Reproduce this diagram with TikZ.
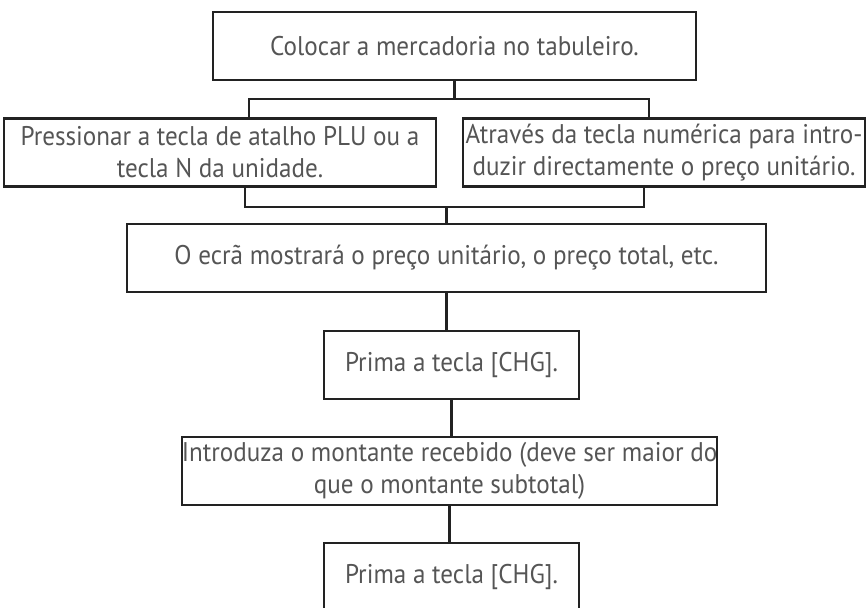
\documentclass[tikz,border=0pt]{standalone}
\usepackage{fontspec}
\setmainfont[FakeStretch=0.93]{PT Sans}
\definecolor{inkline}{HTML}{222222}
\definecolor{inktext}{HTML}{555555}

\begin{document}
\begin{tikzpicture}[x=0.5pt,y=-0.5pt,
  stepbox/.style={draw=inkline,line width=1.2pt,inner sep=0pt,minimum height=34pt,align=center,text=inktext,font=\fontsize{13.5}{16}\selectfont},
  link/.style={draw=inkline,line width=1.2pt}]
  \useasboundingbox (0,0) rectangle (867,608);
  \clip (0,0) rectangle (867,608);
  % first step
  \node[stepbox,minimum width=241.5pt] (colocar) at (454.5,46){Colocar a mercadoria no tabuleiro.};
  % two ways to get the price
  \node[stepbox,minimum width=216pt] (pressionar) at (220,152.5){Pressionar a tecla de atalho PLU ou a\\tecla N da unidade.};
  \node[stepbox,minimum width=201pt] (atraves) at (664,152.5){Através da tecla numérica para intro-\\duzir directamente o preço unitário.};
  \coordinate (splitL) at (249,99); \coordinate (splitR) at (649,99);
  \draw[link] (colocar.south) -- (colocar.south |- splitL);
  \draw[link] (splitL |- pressionar.north) -- (splitL) -- (splitR) -- (splitR |- atraves.north);
  \coordinate (joinL) at (245,207); \coordinate (joinR) at (644,207);
  \draw[link] (joinL |- pressionar.south) -- (joinL) -- (joinR) -- (joinR |- atraves.south);
  % the rest in one column
  \node[stepbox,minimum width=319.5pt] (ecra) at (446.5,258){O ecrã mostrará o preço unitário, o preço total, etc.};
  \node[stepbox,minimum width=127.5pt] (chgA) at (451.5,365){Prima a tecla [CHG].};
  \node[stepbox,minimum width=266.5pt] (introduza) at (449.5,471){Introduza o montante recebido (deve ser maior do\\que o montante subtotal)};
  \node[stepbox,minimum width=127.5pt] (chgB) at (451.5,577){Prima a tecla [CHG].};
  \draw[link] (ecra.north |- joinL) -- (ecra.north);
  \draw[link] (ecra.south) -- (ecra.south |- chgA.north);
  \draw[link] (chgA.south) -- (chgA.south |- introduza.north);
  \draw[link] (introduza.south) -- (introduza.south |- chgB.north);
\end{tikzpicture}
\end{document}
